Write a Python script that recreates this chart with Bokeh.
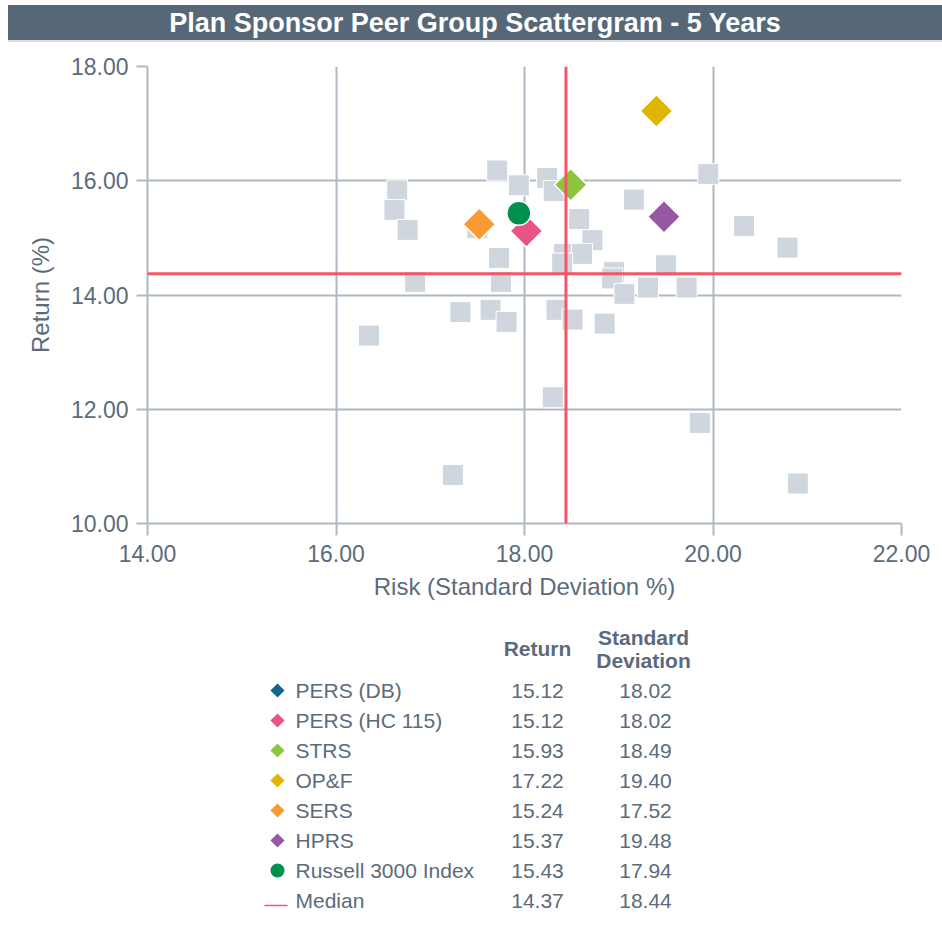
import math
from bokeh.plotting import figure
from bokeh.models import Range1d, FixedTicker, NumeralTickFormatter, Span, Div
from bokeh.layouts import column
from bokeh.embed import file_html
from bokeh.resources import INLINE
from bokeh.core.properties import value

# ---------------- data ----------------
title_text = "Plan Sponsor Peer Group Scattergram - 5 Years"
x_label = "Risk (Standard Deviation %)"
y_label = "Return (%)"
x_ticks = [14, 16, 18, 20, 22]
y_ticks = [10, 12, 14, 16, 18]

peer_sd = [17.71, 17.94, 18.24, 18.31, 19.95, 16.65, 16.62, 16.76, 19.16, 17.50,
           18.58, 18.72, 18.42, 18.61, 18.40, 17.73, 19.50, 18.95, 16.84, 17.75,
           18.93, 19.06, 19.31, 19.72, 17.32, 17.64, 17.81, 18.34, 18.51, 18.85,
           16.35, 18.30, 19.86, 17.24, 20.33, 20.79, 20.90]
peer_ret = [16.18, 15.92, 16.05, 15.82, 16.12, 15.83, 15.49, 15.14, 15.67, 15.17,
            15.33, 14.96, 14.72, 14.72, 14.55, 14.65, 14.52, 14.40, 14.23, 14.23,
            14.29, 14.02, 14.13, 14.13, 13.70, 13.74, 13.53, 13.74, 13.57, 13.50,
            13.29, 12.21, 11.76, 10.85, 15.21, 14.83, 10.70]

names = ["PERS (DB)", "PERS (HC 115)", "STRS", "OP&F", "SERS", "HPRS", "Russell 3000 Index"]
returns = [15.12, 15.12, 15.93, 17.22, 15.24, 15.37, 15.43]
std_devs = [18.02, 18.02, 18.49, 19.40, 17.52, 19.48, 17.94]
colors = ["#12658A", "#EA5484", "#8CC63E", "#E0B400", "#F89B34", "#9658A5", "#00904E"]
markers = ["diamond", "diamond", "diamond", "diamond", "diamond", "diamond", "circle"]

median_name = "Median"
median_ret = 14.37
median_sd = 18.44

col_headers = ["Return", "Standard\nDeviation"]

# ---------------- style ----------------
FONT = value("Liberation Sans")
TXT = "#5B6B7B"
GRID = "#AEB8C4"
BAND = "#566878"
RED = "#F25668"
PEER = "#CFD6DE"
W = 942

# ---------------- title band ----------------
title = Div(text=title_text, width=W - 8, height=37, margin=(5, 0, 0, 8),
            styles={"background-color": BAND, "color": "white",
                    "font-family": "Liberation Sans", "font-size": "27px",
                    "font-weight": "bold", "text-align": "center",
                    "line-height": "36px",
                    "border-bottom": "2px solid #DADDE0", "box-sizing": "border-box"})

# ---------------- scatter ----------------
p = figure(width=W, height=573, x_range=Range1d(14, 22), y_range=Range1d(10, 18),
           output_backend="svg", toolbar_location=None,
           min_border_left=147, min_border_right=41, min_border_top=24, min_border_bottom=92)
p.outline_line_color = None
p.background_fill_color = "white"
p.border_fill_color = "white"

p.xaxis.ticker = FixedTicker(ticks=x_ticks)
p.yaxis.ticker = FixedTicker(ticks=y_ticks)
p.xgrid.ticker = FixedTicker(ticks=x_ticks)
p.ygrid.ticker = FixedTicker(ticks=y_ticks)
for g in (p.xgrid, p.ygrid):
    g.grid_line_color = GRID
    g.grid_line_width = 2
for ax in (p.xaxis, p.yaxis):
    ax.formatter = NumeralTickFormatter(format="0.00")
    ax.axis_line_color = GRID
    ax.axis_line_width = 2
    ax.major_tick_line_color = GRID
    ax.major_tick_line_width = 2
    ax.major_tick_in = 0
    ax.minor_tick_line_color = None
    ax.major_label_text_font = "Liberation Sans"
    ax.major_label_text_font_size = "23px"
    ax.major_label_text_color = TXT
    ax.axis_label_text_font = "Liberation Sans"
    ax.axis_label_text_font_size = "24px"
    ax.axis_label_text_font_style = "normal"
    ax.axis_label_text_color = TXT
p.xaxis.major_tick_out = 12
p.yaxis.major_tick_out = 11
p.xaxis.major_label_standoff = 9
p.yaxis.major_label_standoff = 8
p.xaxis.axis_label = x_label
p.yaxis.axis_label = y_label
p.xaxis.axis_label_standoff = 8
p.yaxis.axis_label_standoff = 14

p.scatter(peer_sd, peer_ret, marker="square", size=21, fill_color=PEER,
          line_color="white", line_width=1)

p.add_layout(Span(location=median_sd, dimension="height", line_color=RED, line_width=3))
p.add_layout(Span(location=median_ret, dimension="width", line_color=RED, line_width=3))

for nm, r, s, c, m in zip(names, returns, std_devs, colors, markers):
    if m == "diamond":
        p.scatter([s], [r], marker="square", angle=math.pi / 4, size=23,
                  fill_color=c, line_color="white", line_width=1.5)
    else:
        p.scatter([s], [r], marker="circle", size=24,
                  fill_color=c, line_color="white", line_width=1.5)

# ---------------- table (frame aligned with scatter frame: page x 147..901) ----------------
TOP = 615
BOT = 927
tb = figure(width=W, height=BOT - TOP, x_range=Range1d(147, 901), y_range=Range1d(BOT, TOP),
            output_backend="svg", toolbar_location=None,
            min_border_left=147, min_border_right=41, min_border_top=0, min_border_bottom=0)
tb.axis.visible = False
tb.grid.visible = False
tb.outline_line_color = None

ROW0, STEP = 690, 30
MX, LX, RX, SX = 277, 295, 537, 645
row_y = [ROW0 + STEP * i for i in range(len(names) + 1)]

tb.text(x=[RX], y=[648], text=[col_headers[0]], text_align="center", text_baseline="middle",
        text_color=TXT, text_font=FONT, text_font_size="21px", text_font_style="bold")
hdr2 = col_headers[1].split("\n")
tb.text(x=[SX - 2, SX - 2], y=[637, 660], text=hdr2, text_align="center", text_baseline="middle",
        text_color=TXT, text_font=FONT, text_font_size="21px", text_font_style="bold")

all_names = names + [median_name]
all_ret = ["%.2f" % v for v in returns + [median_ret]]
all_sd = ["%.2f" % v for v in std_devs + [median_sd]]

tb.text(x=[LX] * len(all_names), y=row_y, text=all_names, text_align="left", text_baseline="middle",
        text_color=TXT, text_font=FONT, text_font_size="21px")
tb.text(x=[RX] * len(all_names), y=row_y, text=all_ret, text_align="center", text_baseline="middle",
        text_color=TXT, text_font=FONT, text_font_size="21px")
tb.text(x=[SX] * len(all_names), y=row_y, text=all_sd, text_align="center", text_baseline="middle",
        text_color=TXT, text_font=FONT, text_font_size="21px")

for i, (c, m) in enumerate(zip(colors, markers)):
    if m == "diamond":
        tb.scatter([MX], [row_y[i]], marker="square", angle=math.pi / 4, size=10,
                   fill_color=c, line_color=None)
    else:
        tb.scatter([MX], [row_y[i]], marker="circle", size=14, fill_color=c, line_color=None)
tb.segment(x0=[MX - 13], y0=[row_y[-1] + 5], x1=[MX + 10], y1=[row_y[-1] + 5],
           line_color=RED, line_width=1.5)

layout = column(title, p, tb, spacing=0)
open("out.html", "w").write(file_html(layout, INLINE))
